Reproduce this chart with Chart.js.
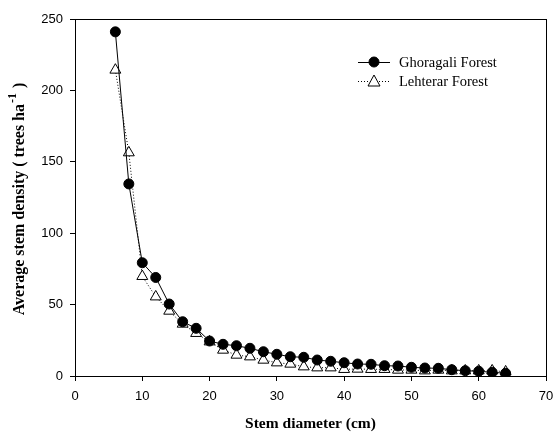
<!DOCTYPE html>
<html>
<head>
<meta charset="utf-8">
<script src="https://cdn.jsdelivr.net/npm/chart.js@4/dist/chart.umd.min.js"></script>
<style>
  body { margin: 0; background: #fff; }
  #wrap { width: 556px; height: 434px; }
</style>
</head>
<body>
<div id="wrap"><canvas id="chart"></canvas></div>
<script>
// stem diameter classes (cm)
const diameters = [6, 8, 10, 12, 14, 16, 18, 20, 22, 24, 26, 28, 30, 32, 34, 36, 38, 40, 42, 44, 46, 48, 50, 52, 54, 56, 58, 60, 62, 64];
const ghoragali = [241, 134.5, 79.3, 69, 50.4, 38, 33.4, 24.5, 22.2, 21.2, 19.4, 17, 15.2, 13.5, 13.1, 11.2, 10.3, 9.3, 8.4, 8.2, 7.2, 7, 6.1, 5.6, 5.4, 4.4, 3.7, 3.3, 2.6, 1.9];
const lehterar = [214.3, 156.4, 69.8, 55.5, 45.5, 36.4, 29.9, 24, 18.2, 14.7, 13.5, 11.2, 9.3, 8.4, 6.5, 5.8, 5.8, 4.7, 4.9, 4.7, 4.7, 4.2, 4.2, 3.7, 4.2, 3.7, 3.7, 3.7, 3.7, 3];
const seriesNames = ['Ghoragali Forest', 'Lehterar Forest'];
const xTicks = [0, 10, 20, 30, 40, 50, 60, 70];
const yTicks = [0, 50, 100, 150, 200, 250];
const xTitle = 'Stem diameter (cm)';
const yTitle = ['Average stem density ( trees ha', '-1', ' )'];

const serif = '"Liberation Serif", "Times New Roman", serif';
const sans = '"Liberation Sans", Arial, sans-serif';

// box round the plot area
const frame = {
  id: 'frame',
  afterDatasetsDraw(chart) {
    const { ctx, chartArea: a } = chart;
    ctx.save();
    ctx.strokeStyle = '#000';
    ctx.lineWidth = 1;
    ctx.strokeRect(Math.round(a.left) + 0.5, Math.round(a.top) + 0.5,
      Math.round(a.right - a.left), Math.round(a.bottom - a.top));
    ctx.restore();
  }
};

// axis titles, the y one has a superscript
const axisTitles = {
  id: 'axisTitles',
  afterDraw(chart) {
    const { ctx, chartArea: a } = chart;
    ctx.save();
    ctx.fillStyle = '#000';
    ctx.textBaseline = 'middle';
    ctx.textAlign = 'center';
    ctx.font = 'bold 15.5px ' + serif;
    ctx.fillText(xTitle, (a.left + a.right) / 2, 424);

    const big = 'bold 16px ' + serif;
    const small = 'bold 12px ' + serif;
    ctx.font = big;
    const w0 = ctx.measureText(yTitle[0]).width;
    const w2 = ctx.measureText(yTitle[2]).width;
    ctx.font = small;
    const w1 = ctx.measureText(yTitle[1]).width;
    const total = w0 + w1 + w2 + 2;
    ctx.translate(19, 199);
    ctx.rotate(-Math.PI / 2);
    ctx.textAlign = 'left';
    ctx.textBaseline = 'alphabetic';
    let x = -total / 2;
    ctx.font = big;
    ctx.fillText(yTitle[0], x, 5);
    x += w0 + 1;
    ctx.font = small;
    ctx.fillText(yTitle[1], x, -3);
    x += w1 + 1;
    ctx.font = big;
    ctx.fillText(yTitle[2], x, 5);
    ctx.restore();
  }
};

// legend drawn inside the plot, top right
const insideLegend = {
  id: 'insideLegend',
  afterDraw(chart) {
    const { ctx } = chart;
    ctx.save();
    ctx.font = '14.5px ' + serif;
    ctx.textBaseline = 'middle';
    chart.data.datasets.forEach((ds, i) => {
      const y = 62 + i * 19;
      ctx.strokeStyle = '#000';
      ctx.lineWidth = 1;
      ctx.setLineDash(ds.borderDash || []);
      ctx.beginPath();
      ctx.moveTo(358, y + 0.5);
      ctx.lineTo(390, y + 0.5);
      ctx.stroke();
      ctx.setLineDash([]);
      ctx.fillStyle = ds.pointBackgroundColor;
      ctx.beginPath();
      if (ds.pointStyle === 'triangle') {
        ctx.moveTo(374, y - 6);
        ctx.lineTo(380, y + 5);
        ctx.lineTo(368, y + 5);
        ctx.closePath();
      } else {
        ctx.arc(374, y, 5, 0, Math.PI * 2);
      }
      ctx.fill();
      ctx.stroke();
      ctx.fillStyle = '#000';
      ctx.fillText(ds.label, 399, y + 1);
    });
    ctx.restore();
  }
};

new Chart(document.getElementById('chart'), {
  type: 'line',
  data: {
    datasets: [
      {
        label: seriesNames[0],
        data: diameters.map((d, i) => ({ x: d, y: ghoragali[i] })),
        borderColor: '#000',
        borderWidth: 1,
        pointStyle: 'circle',
        pointRadius: 5,
        pointBackgroundColor: '#000',
        pointBorderColor: '#000',
        pointBorderWidth: 1,
        tension: 0
      },
      {
        label: seriesNames[1],
        data: diameters.map((d, i) => ({ x: d, y: lehterar[i] })),
        borderColor: '#000',
        borderWidth: 1,
        borderDash: [1, 2],
        pointStyle: 'triangle',
        pointRadius: 6.3,
        pointBackgroundColor: '#fff',
        pointBorderColor: '#000',
        pointBorderWidth: 1,
        tension: 0
      }
    ]
  },
  options: {
    responsive: true,
    maintainAspectRatio: false,
    animation: false,
    layout: { padding: { top: 19, right: 10, left: 0, bottom: 0 } },
    plugins: {
      legend: { display: false },
      tooltip: { enabled: false }
    },
    scales: {
      x: {
        type: 'linear',
        min: 0,
        max: 70,
        afterBuildTicks: (s) => { s.ticks = xTicks.map(v => ({ value: v })); },
        afterFit: (s) => { s.height = 58; s.paddingLeft = 0; s.paddingRight = 0; },
        grid: { drawOnChartArea: false, drawTicks: true, tickLength: 5, color: '#000' },
        border: { color: '#000' },
        ticks: { color: '#000', font: { family: sans, size: 13 }, padding: 8 },
        title: { display: false }
      },
      y: {
        type: 'linear',
        min: 0,
        max: 250,
        afterBuildTicks: (s) => { s.ticks = yTicks.map(v => ({ value: v })); },
        afterFit: (s) => { s.width = 75; s.paddingTop = 0; s.paddingBottom = 0; },
        grid: { drawOnChartArea: false, drawTicks: true, tickLength: 5, color: '#000' },
        border: { color: '#000' },
        ticks: { color: '#000', font: { family: sans, size: 13 }, padding: 7 },
        title: { display: false }
      }
    }
  },
  plugins: [frame, axisTitles, insideLegend]
});
</script>
</body>
</html>
